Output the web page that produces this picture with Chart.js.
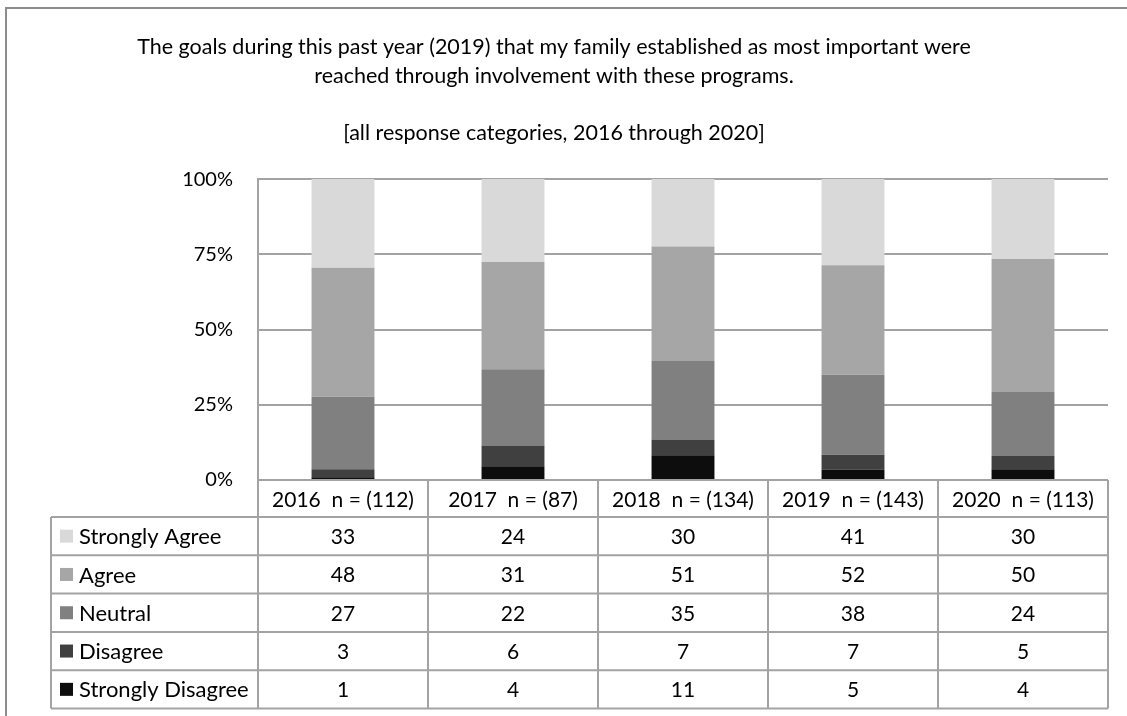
<!DOCTYPE html>
<html>
<head>
<meta charset="utf-8">
<script src="https://cdn.jsdelivr.net/npm/chart.js@4/dist/chart.umd.min.js"></script>
<style>
  html, body { margin: 0; padding: 0; background: #ffffff; }
  #wrap { width: 1127px; height: 716px; position: relative; }
</style>
</head>
<body>
<div id="wrap"><canvas id="chart" width="1127" height="716"></canvas></div>
<script>
// Survey responses per year (counts)
const years = ['2016', '2017', '2018', '2019', '2020'];
const sampleSizes = [112, 87, 134, 143, 113];
const stronglyAgree = [33, 24, 30, 41, 30];
const agree = [48, 31, 51, 52, 50];
const neutral = [27, 22, 35, 38, 24];
const disagree = [3, 6, 7, 7, 5];
const stronglyDisagree = [1, 4, 11, 5, 4];
const yTicks = [0, 25, 50, 75, 100];

const FONT = 'Lato, "Liberation Sans", sans-serif';
const GRID = '#a3a3a3';

// Series in stacking order (bottom first)
const series = [
  { label: 'Strongly Disagree', counts: stronglyDisagree, color: '#0d0d0d' },
  { label: 'Disagree', counts: disagree, color: '#404040' },
  { label: 'Neutral', counts: neutral, color: '#808080' },
  { label: 'Agree', counts: agree, color: '#a6a6a6' },
  { label: 'Strongly Agree', counts: stronglyAgree, color: '#d9d9d9' }
];

const totals = years.map((_, i) => series.reduce((s, d) => s + d.counts[i], 0));
const categoryLabels = years.map((y, i) => `${y}  n = (${sampleSizes[i]})`);

// Outer frame of the figure
const framePlugin = {
  id: 'frame',
  beforeDraw(chart) {
    const ctx = chart.ctx;
    ctx.save();
    ctx.strokeStyle = '#8c8c8c';
    ctx.lineWidth = 2;
    ctx.beginPath();
    ctx.moveTo(6, 716);
    ctx.lineTo(6, 8);
    ctx.lineTo(1127, 8);
    ctx.stroke();
    ctx.restore();
  }
};

// Data table under the plot: header cells + one row per response category
const tablePlugin = {
  id: 'dataTable',
  afterDraw(chart) {
    const { ctx, chartArea } = chart;
    const x = chart.scales.x;
    const colW = x.getPixelForValue(1) - x.getPixelForValue(0);
    const left = chartArea.left;
    const right = x.getPixelForValue(years.length - 1) + colW / 2;
    const headerTop = chartArea.bottom;
    const headerBottom = headerTop + 37;
    const rowH = 38.3;
    const legendLeft = 51;
    const rows = series.slice().reverse();
    const tableBottom = headerBottom + rowH * rows.length;

    ctx.save();
    ctx.strokeStyle = GRID;
    ctx.lineWidth = 2;

    // header cell borders
    ctx.beginPath();
    for (let i = 0; i <= years.length; i++) {
      const px = left + i * colW;
      ctx.moveTo(px, headerTop);
      ctx.lineTo(px, headerBottom);
    }
    ctx.stroke();

    // row borders
    ctx.beginPath();
    for (let r = 0; r <= rows.length; r++) {
      const py = headerBottom + r * rowH;
      ctx.moveTo(legendLeft, py);
      ctx.lineTo(right, py);
    }
    ctx.moveTo(legendLeft, headerBottom);
    ctx.lineTo(legendLeft, tableBottom);
    for (let i = 0; i <= years.length; i++) {
      const px = left + i * colW;
      ctx.moveTo(px, headerBottom);
      ctx.lineTo(px, tableBottom);
    }
    ctx.stroke();

    // cell contents
    ctx.textBaseline = 'middle';
    rows.forEach((s, r) => {
      const cy = headerBottom + r * rowH + rowH / 2;
      ctx.fillStyle = s.color;
      ctx.fillRect(60, cy - 6.5, 13, 13);
      ctx.fillStyle = '#000000';
      ctx.textAlign = 'left';
      ctx.font = `22px ${FONT}`;
      ctx.fillText(s.label, 79, cy + 1);
      ctx.textAlign = 'center';
      ctx.font = `21px ${FONT}`;
      s.counts.forEach((v, i) => {
        ctx.fillText(String(v), x.getPixelForValue(i), cy + 1);
      });
    });
    ctx.restore();
  }
};

new Chart(document.getElementById('chart'), {
  type: 'bar',
  data: {
    labels: categoryLabels,
    datasets: series.map(s => ({
      label: s.label,
      data: s.counts.map((v, i) => v / totals[i] * 100),
      backgroundColor: s.color,
      borderWidth: 0,
      categoryPercentage: 1,
      barPercentage: 0.37
    }))
  },
  options: {
    responsive: false,
    animation: false,
    layout: { padding: { left: 0, right: 19, top: 0, bottom: 199 } },
    plugins: {
      legend: { display: false },
      tooltip: { enabled: false },
      title: {
        display: true,
        text: ['The goals during this past year (2019) that my family established as most important were',
               'reached through involvement with these programs.'],
        color: '#000000',
        font: { family: FONT, size: 21.5, weight: 'normal', lineHeight: 1.35 },
        padding: { top: 32.5, bottom: 0 }
      },
      subtitle: {
        display: true,
        text: '[all response categories, 2016 through 2020]',
        color: '#000000',
        font: { family: FONT, size: 21.5, weight: 'normal', lineHeight: 1.35 },
        padding: { top: 28, bottom: 31.5 }
      }
    },
    scales: {
      x: {
        stacked: true,
        grid: { display: false },
        border: { display: false },
        ticks: { color: '#000000', font: { family: FONT, size: 21 }, padding: 0, maxRotation: 0, autoSkip: false },
        afterFit(scale) { scale.height = 37; }
      },
      y: {
        stacked: true,
        min: 0,
        max: 100,
        afterBuildTicks(scale) { scale.ticks = yTicks.map(v => ({ value: v })); },
        ticks: { color: '#000000', font: { family: FONT, size: 20 }, padding: 25, callback: v => v + '%' },
        grid: { color: GRID, lineWidth: 2, drawTicks: false },
        border: { display: true, color: GRID, width: 2 },
        afterFit(scale) { scale.width = 258; }
      }
    }
  },
  plugins: [framePlugin, tablePlugin]
});
</script>
</body>
</html>
